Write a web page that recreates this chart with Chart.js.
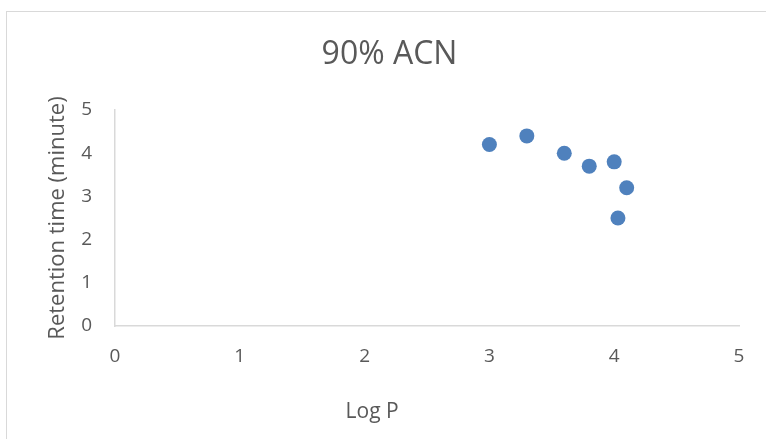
<!DOCTYPE html>
<html>
<head>
<meta charset="utf-8">
<script src="https://cdn.jsdelivr.net/npm/chart.js@4/dist/chart.umd.min.js"></script>
<style>
  html, body { margin: 0; padding: 0; background: #fff; }
  #wrap { position: relative; width: 766px; height: 439px; overflow: hidden; }
  #frame { position: absolute; left: 6px; top: 11px; width: 800px; height: 500px;
           border-left: 1px solid #d9d9d9; border-top: 1px solid #d9d9d9; }
  #chart { position: absolute; left: 0; top: 0; }
</style>
</head>
<body>
<div id="wrap">
  <div id="frame"></div>
  <canvas id="chart" width="766" height="439"></canvas>
</div>
<script>
// data
const logP = [3.0, 3.3, 3.6, 3.8, 4.0, 4.1, 4.03]
const retentionTime = [4.2, 4.4, 4.0, 3.7, 3.8, 3.2, 2.5]
const chartTitle = '90% ACN'
const xTitle = 'Log P'
const yTitle = 'Retention time (minute)'

const textColor = '#595959'
const axisColor = '#d9d9d9'
const fontFamily = '"Open Sans", "Noto Sans", sans-serif'

const points = logP.map((x, i) => ({ x: x, y: retentionTime[i] }))

// x axis title sits left of centre in the original
const xTitlePlugin = {
  id: 'xTitle',
  afterDraw(chart) {
    const ctx = chart.ctx
    const xs = chart.scales.x
    ctx.save()
    ctx.fillStyle = textColor
    ctx.font = '21px ' + fontFamily
    ctx.textAlign = 'center'
    ctx.textBaseline = 'middle'
    ctx.fillText(xTitle, xs.getPixelForValue(2.06), 412)
    ctx.restore()
  }
}

new Chart(document.getElementById('chart'), {
  type: 'scatter',
  data: {
    datasets: [{
      data: points,
      backgroundColor: '#4f81bd',
      borderColor: '#4f81bd',
      borderWidth: 0,
      pointRadius: 7.5,
      pointHoverRadius: 7.5
    }]
  },
  options: {
    responsive: false,
    animation: false,
    layout: { padding: { left: 40, right: 27, top: 0, bottom: 0 } },
    plugins: {
      legend: { display: false },
      tooltip: { enabled: false },
      title: {
        display: true,
        text: chartTitle,
        color: textColor,
        font: { family: fontFamily, size: 32, weight: 'normal', lineHeight: 1.2 },
        padding: { top: 36, bottom: 35.6 }
      }
    },
    scales: {
      x: {
        type: 'linear',
        min: 0,
        max: 5,
        afterFit(scale) { scale.height = 113 },
        grid: { display: false, drawTicks: false },
        border: { display: true, color: axisColor, width: 1.5 },
        ticks: {
          stepSize: 1,
          padding: 19,
          color: textColor,
          font: { family: fontFamily, size: 19 }
        }
      },
      y: {
        type: 'linear',
        min: 0,
        max: 5,
        afterFit(scale) { scale.width = 75 },
        grid: { display: false, drawTicks: false },
        border: { display: true, color: axisColor, width: 1.5 },
        title: {
          display: true,
          text: yTitle,
          color: textColor,
          font: { family: fontFamily, size: 22, lineHeight: 1.2 },
          padding: { top: 5 }
        },
        ticks: {
          stepSize: 1,
          padding: 23,
          color: textColor,
          font: { family: fontFamily, size: 19 }
        }
      }
    }
  },
  plugins: [xTitlePlugin]
})
</script>
</body>
</html>
